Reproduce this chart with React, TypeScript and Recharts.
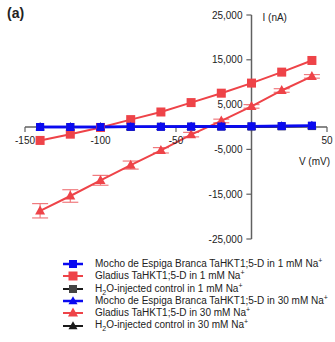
import React from 'react';
import { LineChart, Line, XAxis, YAxis, ReferenceLine, ReferenceDot, ErrorBar, Legend } from 'recharts';

// membrane voltage steps (mV)
const voltages = [-140, -120, -100, -80, -60, -40, -20, 0, 20, 40];

// currents (nA)
const mochoLow = [0, 0, 0, 50, 50, 100, 100, 150, 200, 300];
const gladiusLow = [-3000, -1600, -100, 1650, 3350, 5450, 7550, 9800, 12250, 14850];
const h2oLow = [0, 0, 0, 0, 50, 50, 100, 100, 150, 200];
const mochoHigh = [0, 0, 0, 50, 50, 100, 100, 150, 200, 300];
const gladiusHigh = [-18700, -15400, -11900, -8500, -5200, -1700, 1350, 4600, 8150, 11300];
const gladiusHighErr = [1600, 1400, 1100, 900, 600, 500, 400, 400, 400, 400];
const h2oHigh = [0, 0, 0, 0, 50, 50, 100, 100, 150, 200];

const xTicks = [-150, -100, -50, 0, 50];
const xTickLabels = ['-150', '-100', '-50', '', '50'];
const yTicks = [25000, 15000, 5000, -5000, -15000, -25000];
const yTickLabels = ['25,000', '15,000', '5,000', '-5,000', '-15,000', '-25,000'];

const RED = '#ee4348';
const BLUE = '#0a0af0';
const BLACK = '#1a1a1a';
const AXIS = '#606060';
const TEXT = '#222';

const data = voltages.map((v, i) => ({
  v,
  mochoLow: mochoLow[i],
  gladiusLow: gladiusLow[i],
  h2oLow: h2oLow[i],
  mochoHigh: mochoHigh[i],
  gladiusHigh: gladiusHigh[i],
  gladiusHighErr: gladiusHighErr[i],
  h2oHigh: h2oHigh[i],
}));

type Shape = 'square' | 'triangle';

const Marker = ({ cx, cy, shape, fill, size }: any) => {
  if (shape === 'square') {
    return <rect x={cx - size / 2} y={cy - size / 2} width={size} height={size} fill={fill} />;
  }
  const h = size * 0.9;
  return (
    <polygon
      points={`${cx},${cy - h * 0.6} ${cx - size / 2},${cy + h * 0.4} ${cx + size / 2},${cy + h * 0.4}`}
      fill={fill}
    />
  );
};

const series: { key: string; color: string; fill: string; shape: Shape; width: number; size: number; label: React.ReactNode }[] = [
  { key: 'mochoLow', color: BLUE, fill: BLUE, shape: 'square', width: 2.5, size: 8, label: <>Mocho de Espiga Branca TaHKT1;5-D in 1 mM Na<sup>+</sup></> },
  { key: 'gladiusLow', color: RED, fill: RED, shape: 'square', width: 2, size: 9, label: <>Gladius TaHKT1;5-D in 1 mM Na<sup>+</sup></> },
  { key: 'h2oLow', color: BLACK, fill: '#444', shape: 'square', width: 2, size: 8, label: <>H<sub>2</sub>O-injected control in 1 mM Na<sup>+</sup></> },
  { key: 'mochoHigh', color: BLUE, fill: BLUE, shape: 'triangle', width: 2.5, size: 9, label: <>Mocho de Espiga Branca TaHKT1;5-D in 30 mM Na<sup>+</sup></> },
  { key: 'gladiusHigh', color: RED, fill: RED, shape: 'triangle', width: 2, size: 10, label: <>Gladius TaHKT1;5-D in 30 mM Na<sup>+</sup></> },
  { key: 'h2oHigh', color: BLACK, fill: BLACK, shape: 'triangle', width: 2, size: 9, label: <>H<sub>2</sub>O-injected control in 30 mM Na<sup>+</sup></> },
];

// draw order: controls underneath, Mocho squares on top
const drawOrder = ['h2oHigh', 'h2oLow', 'gladiusHigh', 'gladiusLow', 'mochoHigh', 'mochoLow'];

const renderLegend = () => (
  <div style={{ fontSize: 10, color: TEXT, lineHeight: '12.3px' }}>
    {series.map((s) => (
      <div key={s.key} style={{ display: 'flex', alignItems: 'center', height: 12.3, whiteSpace: 'nowrap' }}>
        <svg width={22} height={12} style={{ flex: 'none' }}>
          <line x1={0} y1={6} x2={20} y2={6} stroke={s.color} strokeWidth={s.width} />
          <Marker cx={10} cy={6} shape={s.shape} fill={s.fill} size={s.size} />
        </svg>
        <span style={{ marginLeft: 10 }}>{s.label}</span>
      </div>
    ))}
  </div>
);

export default function App() {
  return (
    <div style={{ position: 'absolute', left: 0, top: 0, width: 335, height: 342, fontFamily: 'Liberation Sans, Arial, sans-serif' }}>
      <style>{`sup, sub { font-size: 7px; line-height: 0; }`}</style>
      <div style={{ position: 'absolute', left: 7, top: 5, fontSize: 14, fontWeight: 'bold', color: TEXT }}>(a)</div>
      <LineChart width={335} height={342} data={data} margin={{ top: 15, right: 8, bottom: 103, left: 25 }}>
        <XAxis type="number" dataKey="v" domain={[-150, 50]} hide height={0} allowDataOverflow />
        <YAxis type="number" domain={[-25000, 25000]} hide width={0} allowDataOverflow />

        <ReferenceLine y={0} stroke={AXIS} strokeWidth={1.5} />
        <ReferenceLine x={0} stroke={AXIS} strokeWidth={1.5} />
        {xTicks.map((t) => (
          <ReferenceLine key={`xt${t}`} segment={[{ x: t, y: 0 }, { x: t, y: -1100 }]} stroke={AXIS} strokeWidth={1.2} />
        ))}
        {yTicks.map((t) => (
          <ReferenceLine key={`yt${t}`} segment={[{ x: 0, y: t }, { x: -3.4, y: t }]} stroke={AXIS} strokeWidth={1.2} />
        ))}
        {xTicks.map((t, i) => (
          <ReferenceDot key={`xl${t}`} x={t} y={0} r={0} stroke="none" ifOverflow="visible"
            label={{ value: xTickLabels[i], position: 'bottom', offset: 10, fontSize: 10, fill: TEXT }} />
        ))}
        {yTicks.map((t, i) => (
          <ReferenceDot key={`yl${t}`} x={0} y={t} r={0} stroke="none" ifOverflow="visible"
            label={{ value: yTickLabels[i], position: 'left', offset: 9, fontSize: 10, fill: TEXT }} />
        ))}
        <ReferenceDot x={0} y={24400} r={0} stroke="none" ifOverflow="visible"
          label={{ value: 'I (nA)', position: 'right', offset: 11, fontSize: 10, fill: TEXT }} />
        <ReferenceDot x={52} y={-7800} r={0} stroke="none" ifOverflow="visible"
          label={{ value: 'V (mV)', position: 'left', offset: 0, fontSize: 10, fill: TEXT }} />

        {drawOrder.map((k) => {
          const s = series.find((x) => x.key === k)!;
          return (
            <Line
              key={k}
              dataKey={k}
              stroke={s.color}
              strokeWidth={s.width}
              isAnimationActive={false}
              dot={(p: any) => <Marker key={`${k}-${p.index}`} cx={p.cx} cy={p.cy} shape={s.shape} fill={s.fill} size={s.size} />}
              activeDot={false}
            >
              {k === 'gladiusHigh' && (
                <ErrorBar dataKey="gladiusHighErr" direction="y" width={8} stroke="#f07a7e" strokeWidth={1.2} />
              )}
            </Line>
          );
        })}

        <Legend
          layout="vertical"
          align="center"
          verticalAlign="middle"
          content={renderLegend}
          wrapperStyle={{ position: 'absolute', left: 63, top: 258, width: 272 }}
        />
      </LineChart>
    </div>
  );
}
